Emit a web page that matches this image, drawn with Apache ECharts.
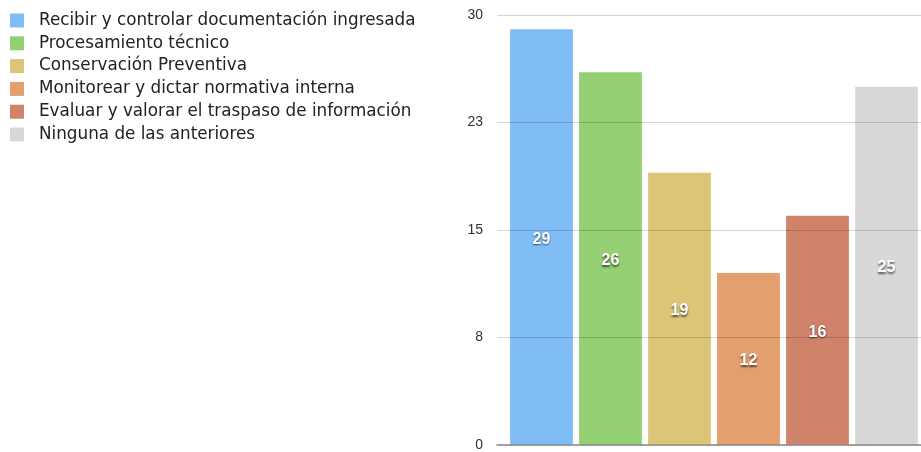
<!DOCTYPE html>
<html><head><meta charset="utf-8">
<script src="https://cdn.jsdelivr.net/npm/echarts@6/dist/echarts.min.js"></script>
<style>html,body{margin:0;padding:0;background:#fff}#c{width:921px;height:452px}</style>
</head><body><div id="c"></div>
<script>
const categories = ["Recibir y controlar documentación ingresada","Procesamiento técnico","Conservación Preventiva","Monitorear y dictar normativa interna","Evaluar y valorar el traspaso de información","Ninguna de las anteriores"];
const values = [29, 26, 19, 12, 16, 25];
const colors = ["#80bdf7","#94d073","#dcc577","#e39f6e","#d0836b","#d8d8d8"];
const yMin = 0, yMax = 30, yInterval = 7.5;

const series = categories.map((name, i) => ({
  name: name,
  type: 'bar',
  stack: 'all',
  xAxisIndex: 1, yAxisIndex: 1,
  barCategoryGap: '9%',
  z: 1,
  itemStyle: { color: colors[i] },
  label: {
    show: true, position: 'inside', offset: [0, 2], color: '#fff', fontWeight: 'bold', fontSize: 16,
    fontFamily: 'Liberation Sans, Arial, sans-serif',
    textShadowColor: 'rgba(0,0,0,0.6)', textShadowBlur: 2, textShadowOffsetY: 1.5
  },
  data: categories.map((c, j) => j === i ? values[i] : '-')
}));

const chart = echarts.init(document.getElementById('c'));
chart.setOption({
  animation: false,
  legend: {
    orient: 'vertical', left: 5, top: 7, itemWidth: 14, itemHeight: 14, itemGap: 5.8,
    icon: 'rect',
    textStyle: { fontSize: 16.8, color: '#222', fontFamily: 'DejaVu Sans, sans-serif', padding: [0,0,0,10] },
    data: categories
  },
  grid: [
    { left: 497, right: 0, top: 15, bottom: 7 },
    { left: 507, right: 0, top: 15, bottom: 7 }
  ],
  xAxis: [
    { gridIndex: 0, type: 'category', data: categories, z: 5,
      axisLine: { show: true, lineStyle: { color: '#8a8a8a', width: 1.5 } },
      axisTick: { show: false }, axisLabel: { show: false } },
    { gridIndex: 1, type: 'category', data: categories,
      axisLine: { show: false }, axisTick: { show: false }, axisLabel: { show: false } }
  ],
  yAxis: [
    { gridIndex: 0, type: 'value', min: yMin, max: yMax, interval: yInterval, z: 5,
      axisLine: { show: false }, axisTick: { show: false },
      axisLabel: { fontSize: 14, color: '#333', margin: 14, fontFamily: 'Liberation Sans, Arial, sans-serif',
        formatter: v => String(Math.round(v)) },
      splitLine: { lineStyle: { color: 'rgba(0,0,0,0.17)', width: 1 } } },
    { gridIndex: 1, type: 'value', min: yMin, max: yMax, interval: yInterval,
      axisLine: { show: false }, axisTick: { show: false }, axisLabel: { show: false },
      splitLine: { show: false } }
  ],
  series: series
});
</script></body></html>
